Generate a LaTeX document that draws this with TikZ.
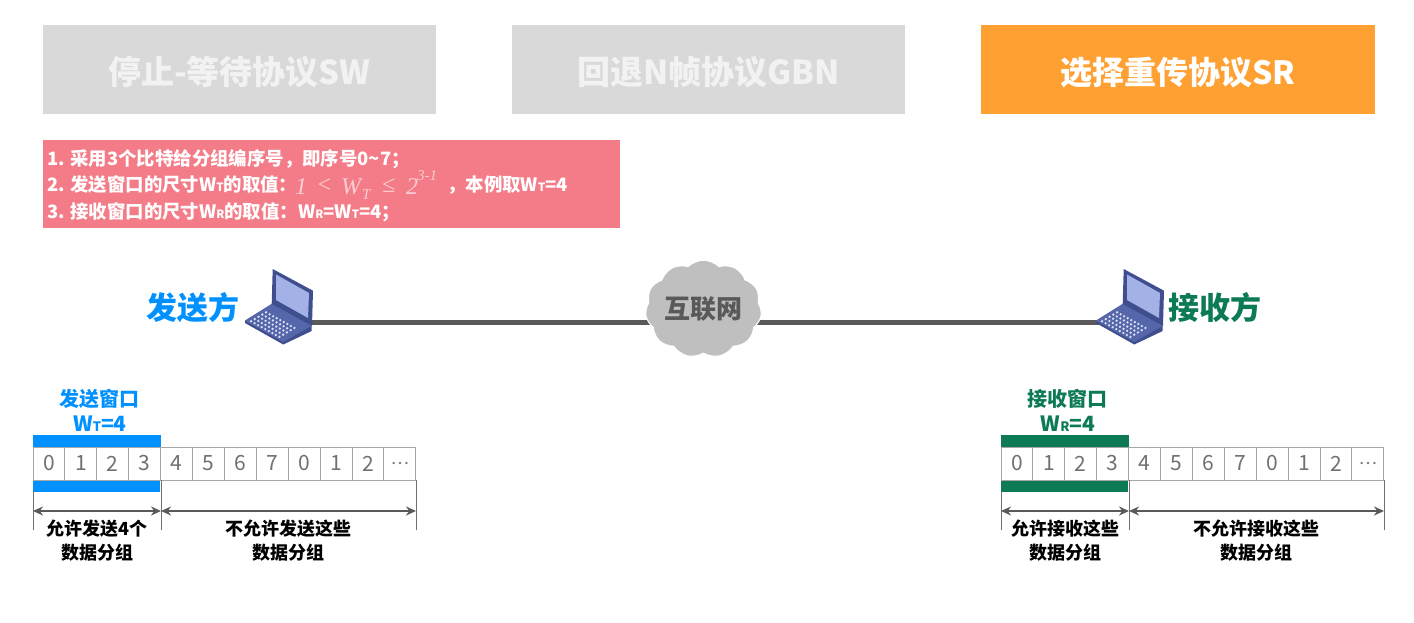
\documentclass[tikz,border=0pt]{standalone}
\usepackage{fontspec}
\setmainfont{Noto Sans CJK SC}
\newfontfamily\frmfont{Liberation Serif}
\usetikzlibrary{arrows.meta,shapes.symbols}
\pgfdeclarelayer{bg}
\pgfsetlayers{bg,main}
\definecolor{boxgray}{HTML}{D9D9D9}
\definecolor{boxtext}{HTML}{F2F2F2}
\definecolor{orangebox}{HTML}{FFA033}
\definecolor{redbox}{HTML}{F47C88}
\definecolor{sendblue}{HTML}{0091FF}
\definecolor{recvgreen}{HTML}{0B7A55}
\definecolor{linkgray}{HTML}{595959}
\definecolor{cloudgray}{HTML}{BFBFBF}
\definecolor{cellline}{HTML}{A6A6A6}
\definecolor{numgray}{HTML}{707070}
\definecolor{lapdark}{HTML}{3F4E8E}
\definecolor{lapmid}{HTML}{5566AA}
\definecolor{lapscreen}{HTML}{A3B1E6}
\definecolor{lapkey}{HTML}{DDE3F5}
\definecolor{frmcolor}{HTML}{F9CDD2}
\newcommand\fs[1]{\fontsize{#1}{#1}\selectfont}
\newcommand\smsub[1]{\scalebox{0.62}{#1}}
\tikzset{
  titlebox/.style={minimum width=393.5pt,minimum height=89.5pt,inner sep=0pt,text height=34pt,text depth=5pt,font=\fs{33}\bfseries,text=boxtext,fill=boxgray},
  redline/.style={anchor=west,inner sep=0pt,text=white,font=\fs{18.4}\bfseries},
  frmline/.style={anchor=west,inner sep=0pt,text=frmcolor,font=\fs{24}\frmfont\itshape},
  celln/.style={draw=cellline,line width=1pt,minimum width=31.9pt,minimum height=33pt,inner sep=0pt,text=numgray,font=\fs{21}},
  dimline/.style={draw=linkgray,line width=1.8pt,{Stealth[length=10pt,width=9pt]}-{Stealth[length=10pt,width=9pt]}},
  tickline/.style={draw=numgray,line width=1pt},
  blabel/.style={inner sep=0pt,text=black,font=\fs{18}\bfseries},
  wlabel/.style={inner sep=0pt,font=\fs{20}\bfseries},
  sidelabel/.style={inner sep=0pt,font=\fs{31}\bfseries}
}
\newcommand\laptop[1]{%
\begin{scope}[xshift=#1]
  \fill[lapdark] (245,320.7) -- (271.7,304) -- (311.7,325.7) -- (311.7,331) -- (283.3,344.5) -- (245,323) -- cycle;
  \fill[lapmid] (245,320.7) -- (271.7,304) -- (311.7,325.7) -- (283.3,342) -- cycle;
  \fill[lapdark] (272.7,269) -- (313,290.7) -- (312,326) -- (271.7,304) -- cycle;
  \fill[lapscreen] (276,274.5) -- (309,293) -- (308,318) -- (276,300) -- cycle;
  \foreach \r in {0,...,4}{\foreach \c in {0,...,8}{
    \fill[lapkey] ({251+\c*3.55+\r*3.75},{321.3+\c*1.95-\r*2.25}) circle[radius=1.3];
  }}
\end{scope}}
\newcommand\winrow[7]{% x offset, colour, prefix, title, sub, first label, second label
\begin{scope}[xshift=#1,name prefix=#3-]
  \foreach \i/\t in {0/0,1/1,2/2,3/3,4/4,5/5,6/6,7/7,8/0,9/1,10/2,11/{\fs{17}⋯}}{
    \node[celln] (c\i) at ({49+31.9*\i},463.5) {\t};
  }
  \fill[#2] (c0.north west) ++(0,-12) rectangle (c3.north east);
  \fill[#2] (c0.south west) rectangle ++(127.6,11);
  \coordinate (a0) at (33,511);
  \coordinate (a1) at (161,511);
  \coordinate (a2) at (416,511);
  \draw[tickline] (33,491) -- (33,530);
  \draw[tickline] (161,480) -- (161,530);
  \draw[tickline] (416,480) -- (416,530);
  \draw[dimline] (a0) -- (a1);
  \draw[dimline] (a1) -- (a2);
  \node[wlabel,text=#2] (wt) at (99,399) {#4};
  \node[wlabel,text=#2,font=\fs{21}\bfseries] (ws) at (100,424) {W\smsub{#5}=4};
  \node[blabel] (l1) at (97,529) {#6};
  \node[blabel] (l2) at (97,552.5) {数据分组};
  \node[blabel] (r1) at (288,529) {不允许#7这些};
  \node[blabel] (r2) at (288,552.5) {数据分组};
\end{scope}}
\begin{document}
\begin{tikzpicture}[x=1pt,y=-1pt]
\useasboundingbox (0,0) rectangle (1414,623);
\node[titlebox] (t1) at (239.5,69.7) {停止-等待协议SW};
\node[titlebox] (t2) at (708.7,69.7) {回退N帧协议GBN};
\node[titlebox,fill=orangebox,text=white,font=\fs{32}\bfseries] (t3) at (1178,69.7) {选择重传协议SR};
\node[fill=redbox,minimum width=577.5pt,minimum height=88pt,inner sep=0pt] (info) at (331.7,184) {};
\node[redline] (i1) at (47,159) {1. 采用3个比特给分组编序号，即序号0\textasciitilde7；};
\node[redline] (i2) at (47,185) {2. 发送窗口的尺寸W\smsub{T}的取值：};
\node[frmline] (f1) at (295,187) {1};
\node[frmline] (f2) at (316,186) {<};
\node[frmline] (f3) at (341,187) {W};
\node[frmline,font=\fs{15}\frmfont\itshape] (f4) at (362,195) {T};
\node[frmline] (f5) at (382,186) {≤};
\node[frmline] (f6) at (406,187) {2};
\node[frmline,font=\fs{15}\frmfont\itshape] (f7) at (417,176) {3-1};
\node[redline] (i3) at (447,185) {，本例取W\smsub{T}=4};
\node[redline] (i4) at (47,212) {3. 接收窗口的尺寸W\smsub{R}的取值：W\smsub{R}=W\smsub{T}=4；};
\coordinate (sendport) at (312,322.5);
\coordinate (recvport) at (1100,322.5);
\node[cloud,cloud puffs=11,cloud puff arc=90,aspect=1.25,fill=cloudgray,draw=white,line width=1pt,minimum width=100pt,minimum height=80pt,inner sep=0pt,text=linkgray,font=\fs{26}\bfseries] (net) at (703.5,309) {互联网};
\begin{pgfonlayer}{bg}
\draw[linkgray,line width=5pt] (sendport) -- (recvport);
\end{pgfonlayer}
\laptop{0pt}
\laptop{851pt}
\node[sidelabel,text=sendblue] (snd) at (192.5,308) {发送方};
\node[sidelabel,text=recvgreen] (rcv) at (1215,308) {接收方};
\winrow{0pt}{sendblue}{s}{发送窗口}{T}{允许发送4个}{发送}
\winrow{968pt}{recvgreen}{r}{接收窗口}{R}{允许接收这些}{接收}
\end{tikzpicture}
\end{document}
